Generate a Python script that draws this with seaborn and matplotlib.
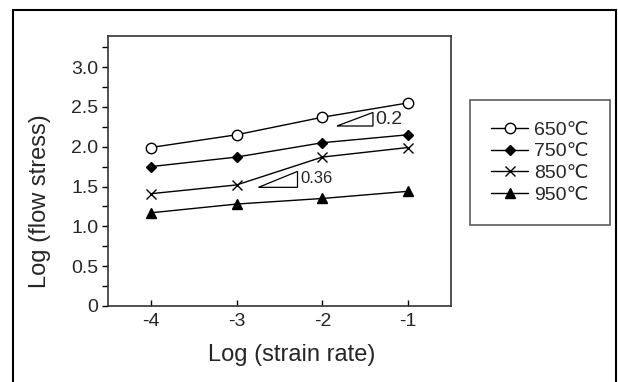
import matplotlib
matplotlib.use("Agg")
import matplotlib.pyplot as plt
from matplotlib.patches import Rectangle, Polygon
from matplotlib.lines import Line2D
from matplotlib.ticker import FixedLocator, MultipleLocator
import numpy as np
import pandas as pd
import seaborn as sns

# data
strain_rate = [-4, -3, -2, -1]
temps = ["650℃", "750℃", "850℃", "950℃"]
stress_650 = [1.99, 2.15, 2.37, 2.55]
stress_750 = [1.75, 1.87, 2.05, 2.15]
stress_850 = [1.41, 1.52, 1.87, 1.99]
stress_950 = [1.17, 1.28, 1.35, 1.44]
y_ticks = [0, 0.5, 1.0, 1.5, 2.0, 2.5, 3.0]
y_tick_labels = ["0", "0.5", "1.0", "1.5", "2.0", "2.5", "3.0"]
x_ticks = [-4, -3, -2, -1]

df = pd.DataFrame({
    "rate": strain_rate * 4,
    "stress": stress_650 + stress_750 + stress_850 + stress_950,
    "temp": np.repeat(temps, len(strain_rate)),
})

sns.set_theme(style="white")
plt.rcParams["font.family"] = ["Liberation Sans", "DejaVu Sans"]

fig = plt.figure(figsize=(6.18, 3.82), dpi=100)
ax = fig.add_axes([108 / 618, 1 - 306 / 382, 343 / 618, 270 / 382])

markers = {"650℃": "o", "750℃": "D", "850℃": "x", "950℃": "^"}
sizes = {"650℃": 7.5, "750℃": 5.5, "850℃": 7, "950℃": 7.5}
for t in temps:
    sub = df[df["temp"] == t]
    sns.lineplot(data=sub, x="rate", y="stress", ax=ax, color="black", lw=1,
                 marker=markers[t], markersize=sizes[t],
                 markerfacecolor="white" if t == "650℃" else "black",
                 markeredgecolor="black", markeredgewidth=1.0, legend=False)

# slope triangles
ax.add_patch(Polygon([[-1.83, 2.26], [-1.41, 2.26], [-1.41, 2.43]], closed=True,
                     fill=False, edgecolor="black", lw=0.9))
ax.text(-1.38, 2.345, "0.2", fontsize=14, va="center", ha="left")
ax.add_patch(Polygon([[-2.745, 1.49], [-2.29, 1.49], [-2.29, 1.69]], closed=True,
                     fill=False, edgecolor="black", lw=0.9))
ax.text(-2.26, 1.6, "0.36", fontsize=12, va="center", ha="left")

ax.set_xlim(-4.5, -0.5)
ax.set_ylim(0, 3.39)
ax.set_xticks(x_ticks)
ax.set_xticklabels([str(v) for v in x_ticks], fontsize=14)
ax.yaxis.set_major_locator(FixedLocator(y_ticks))
ax.set_yticklabels(y_tick_labels, fontsize=14)
ax.yaxis.set_minor_locator(MultipleLocator(0.25))
ax.tick_params(axis="y", which="both", direction="out", length=4, width=1,
               color="black", left=True, pad=3)
ax.tick_params(axis="x", which="both", direction="in", length=4, width=1,
               color="black", bottom=True, pad=5)
for s in ax.spines.values():
    s.set_color("#333333")
    s.set_linewidth(1.2)

ax.set_xlabel("Log (strain rate)", fontsize=17)
ax.set_ylabel("Log (flow stress)", fontsize=17)
ax.xaxis.set_label_coords(0.536, -0.14)
ax.yaxis.set_label_coords(-0.165, 0.39)

handles = [Line2D([], [], color="black", lw=1, marker=markers[t], markersize=sizes[t],
                  markerfacecolor="white" if t == "650℃" else "black",
                  markeredgecolor="black") for t in temps]
leg = fig.legend(handles, temps, loc="upper left",
                 bbox_to_anchor=(470 / 618, 1 - 100 / 382), fontsize=14,
                 frameon=True, fancybox=False, handlelength=1.9,
                 handletextpad=0.3, labelspacing=0.2, borderpad=1.1,
                 borderaxespad=0)
leg.get_frame().set_edgecolor("#333333")
leg.get_frame().set_linewidth(1.2)

# outer frame
fig.patches.append(Rectangle((13 / 618, -0.05), 603 / 618, 1.05 - 10 / 382,
                             transform=fig.transFigure, fill=False,
                             edgecolor="black", lw=1.5))

fig.savefig("out.png", dpi=100)
